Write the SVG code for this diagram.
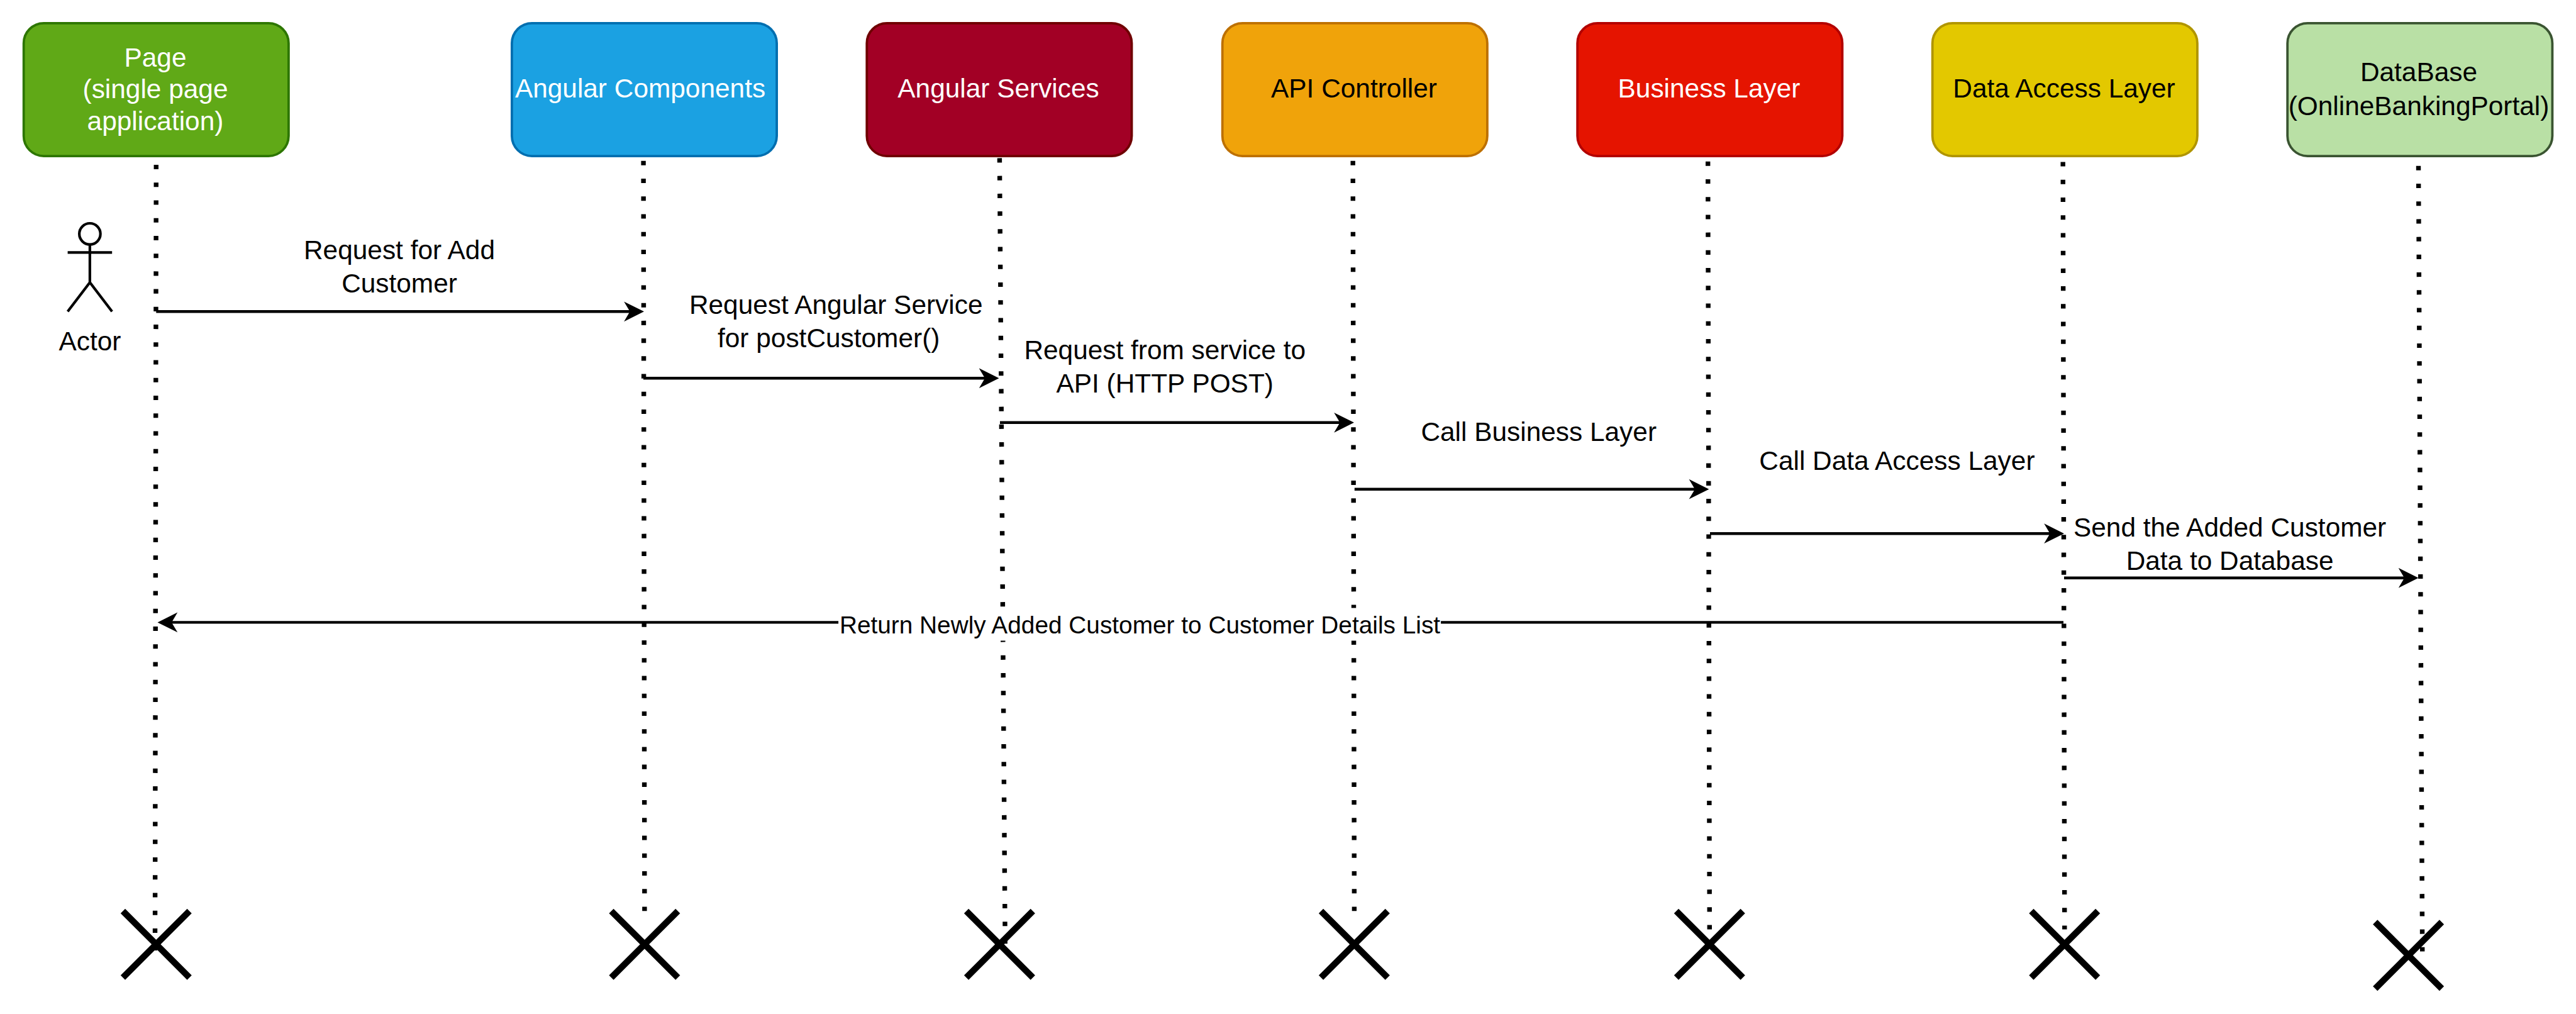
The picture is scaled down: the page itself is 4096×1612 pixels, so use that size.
<svg xmlns="http://www.w3.org/2000/svg" width="4096" height="1612" viewBox="0 0 4096 1612">
<defs>
<style>
text{font-family:"Liberation Sans",Arial,sans-serif;font-size:42.4px;text-anchor:middle;fill:#000}
.w{fill:#fff}
.ret{font-size:38.8px}
.box{stroke-width:3.8}
.life{stroke:#000;stroke-width:7.4;stroke-dasharray:7.06 21.17;fill:none}
.msg{stroke:#000;stroke-width:4.4;fill:none;marker-end:url(#arrow)}
.x{stroke:#000;stroke-width:10.2;fill:none}
.actor{stroke:#000;stroke-width:4.2;fill:#fff}
.limbs{stroke:#000;stroke-width:4.2;fill:none}
</style>
<marker id="arrow" markerUnits="userSpaceOnUse" markerWidth="34" markerHeight="34" viewBox="0 0 34 34" refX="24" refY="17" orient="auto">
<path d="M0.2,1.1 L32,17 L0.2,32.9 L9.6,17 Z" fill="#000"/>
</marker>
</defs>
<rect width="4096" height="1612" fill="#fff"/>
<g id="connectors">
<line class="life" x1="248.3" y1="262" x2="246.5" y2="1511"/>
<line class="life" x1="1023.1" y1="255.8" x2="1024.9" y2="1448.2"/>
<line class="life" x1="1589.4" y1="251.4" x2="1598.2" y2="1500.3"/>
<line class="life" x1="2151.2" y1="255.8" x2="2153.4" y2="1448.2"/>
<line class="life" x1="2715.7" y1="256.7" x2="2718.3" y2="1477.4"/>
<line class="life" x1="3280.2" y1="257.5" x2="3282.8" y2="1477.4"/>
<line class="life" x1="3845.5" y1="263.7" x2="3851.7" y2="1512.6"/>
<line class="msg" x1="248.3" y1="495.3" x2="1016" y2="495.3"/>
<line class="msg" x1="1023" y1="601.3" x2="1580.5" y2="601.3"/>
<line class="msg" x1="1590" y1="671.8" x2="2145" y2="671.8"/>
<line class="msg" x1="2153.8" y1="777.7" x2="2709.4" y2="777.7"/>
<line class="msg" x1="2719" y1="848.2" x2="3274" y2="848.2"/>
<line class="msg" x1="3282" y1="918.8" x2="3837.5" y2="918.8"/>
<line class="msg" x1="3281" y1="989.4" x2="258.5" y2="989.4"/>
<text x="635" y="411.5">Request for Add</text>
<text x="635" y="464.8">Customer</text>
<text x="1329.2" y="499.2">Request Angular Service</text>
<text x="1317.7" y="552.1">for postCustomer()</text>
<text x="1852.2" y="570.7">Request from service to</text>
<text x="1852.2" y="623.6">API (HTTP POST)</text>
<text x="2446.7" y="701.2">Call Business Layer</text>
<text x="3016.4" y="747.1">Call Data Access Layer</text>
<text x="3545.6" y="852.9">Send the Added Customer</text>
<text x="3545.6" y="905.8">Data to Database</text>
<rect x="1333.1" y="966.5" width="958" height="52" fill="#fff"/>
<text class="ret" x="1812.5" y="1007">Return Newly Added Customer to Customer Details List</text>
</g>
<g id="page"><rect class="box" x="37.7" y="36.8" width="421.2" height="211.3" rx="32" fill="#60a917" stroke="#2d7600"/><text class="w" x="247" y="105.5">Page</text><text class="w" x="247" y="155.5">(single page</text><text class="w" x="247" y="207">application)</text></g>
<g id="angular-components"><rect class="box" x="813.9" y="36.8" width="421.2" height="211.3" rx="32" fill="#1ba1e2" stroke="#006eaf"/><text class="w" x="1018" y="154.5">Angular Components</text></g>
<g id="angular-services"><rect class="box" x="1378.3" y="36.8" width="421.2" height="211.3" rx="32" fill="#a20025" stroke="#6f0000"/><text class="w" x="1587.5" y="154.5">Angular Services</text></g>
<g id="api-controller"><rect class="box" x="1943.7" y="36.8" width="421.2" height="211.3" rx="32" fill="#f0a30a" stroke="#bd7000"/><text x="2153" y="154.5">API Controller</text></g>
<g id="business-layer"><rect class="box" x="2508.2" y="36.8" width="421.2" height="211.3" rx="32" fill="#e51400" stroke="#b20000"/><text class="w" x="2717.5" y="154.5">Business Layer</text></g>
<g id="data-access-layer"><rect class="box" x="3072.7" y="36.8" width="421.2" height="211.3" rx="32" fill="#e3c800" stroke="#b09500"/><text x="3282" y="154.5">Data Access Layer</text></g>
<g id="database"><rect class="box" x="3637.2" y="36.8" width="421.2" height="211.3" rx="32" fill="#b9e0a5" stroke="#3a5431"/><text x="3846" y="129.4">DataBase</text><text x="3846" y="182.9">(OnlineBankingPortal)</text></g>
<g id="actor"><ellipse class="actor" cx="142.9" cy="371.8" rx="16.8" ry="16.8"/><path class="limbs" d="M107.6,401.3H178.2M142.9,388.6V449M107.6,495.3L142.9,449L178.2,495.3"/><text x="142.9" y="556.5">Actor</text></g>
<g id="destroy-page"><path class="x" d="M195.4,1448.3L301.2,1554.1M301.2,1448.3L195.4,1554.1"/></g>
<g id="destroy-angular-components"><path class="x" d="M972,1448.3L1077.8,1554.1M1077.8,1448.3L972,1554.1"/></g>
<g id="destroy-angular-services"><path class="x" d="M1536.5,1448.3L1642.3,1554.1M1642.3,1448.3L1536.5,1554.1"/></g>
<g id="destroy-api-controller"><path class="x" d="M2100.5,1448.3L2206.3,1554.1M2206.3,1448.3L2100.5,1554.1"/></g>
<g id="destroy-business-layer"><path class="x" d="M2665.4,1448.3L2771.2,1554.1M2771.2,1448.3L2665.4,1554.1"/></g>
<g id="destroy-data-access-layer"><path class="x" d="M3229.9,1448.3L3335.7,1554.1M3335.7,1448.3L3229.9,1554.1"/></g>
<g id="destroy-database"><path class="x" d="M3776.7,1465.9L3882.5,1571.7M3882.5,1465.9L3776.7,1571.7"/></g>
</svg>
